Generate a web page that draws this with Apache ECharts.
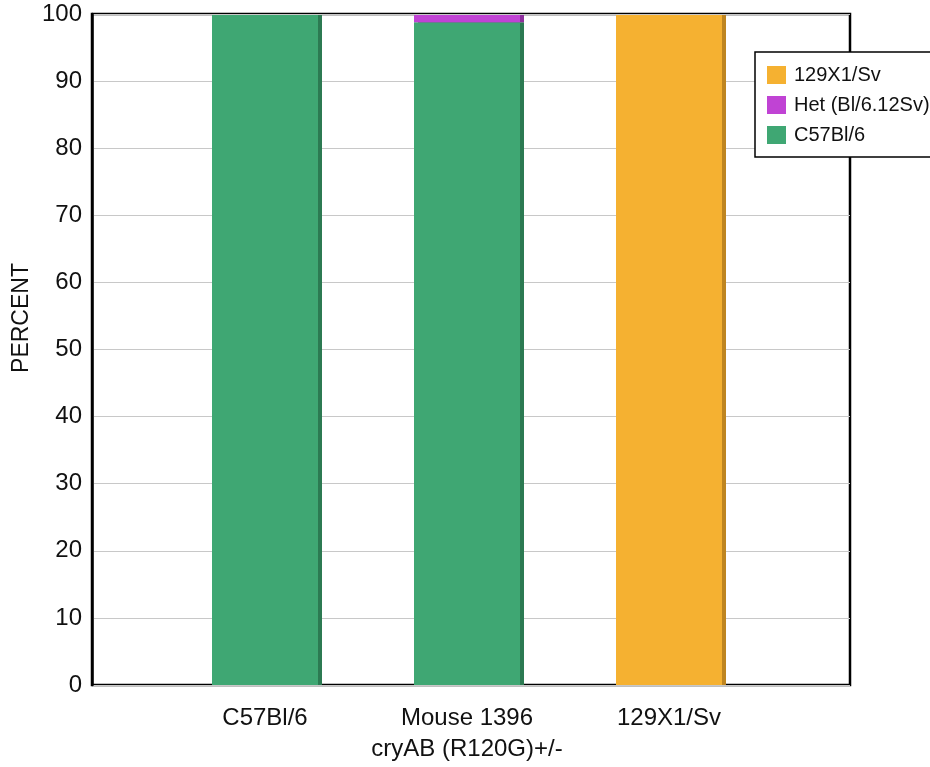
<!DOCTYPE html>
<html>
<head>
<meta charset="utf-8">
<script src="https://cdn.jsdelivr.net/npm/echarts@6/dist/echarts.min.js"></script>
<style>
html,body{margin:0;padding:0;background:#fff;}
#c{width:930px;height:767px;}
</style>
</head>
<body>
<div id="c"></div>
<script>
var categories = ['C57Bl/6', 'Mouse 1396\ncryAB (R120G)+/-', '129X1/Sv'];
var c57Values = [100, 98.9, 0];
var hetValues = [0, 1.1, 0];
var sv129Values = [0, 0, 100];
var yTicks = [0, 10, 20, 30, 40, 50, 60, 70, 80, 90, 100];

var FONT = "'Liberation Sans', Arial, sans-serif";
var chart = echarts.init(document.getElementById('c'));

function barSeries(name, data, color, dark) {
  return {
    name: name, type: 'bar', stack: 'a', data: data,
    xAxisIndex: 1, yAxisIndex: 1, barWidth: 106,
    itemStyle: { color: color, shadowColor: dark, shadowOffsetX: 4, shadowOffsetY: 0, shadowBlur: 0 },
    emphasis: { disabled: true }
  };
}

chart.setOption({
  animation: false,
  backgroundColor: '#ffffff',
  textStyle: { fontFamily: FONT },
  grid: [
    { left: 92, right: 80, top: 14, bottom: 82, show: true, borderColor: '#000', borderWidth: 2.5, backgroundColor: 'transparent' },
    { left: 164, right: 160, top: 15, bottom: 82 }
  ],
  xAxis: [
    { gridIndex: 0, type: 'value', min: 0, max: 1, show: false },
    { gridIndex: 1, type: 'category', data: categories,
      axisLine: { show: false }, axisTick: { show: false },
      axisLabel: { interval: 0, color: '#111', fontSize: 24, fontFamily: FONT, margin: 18, lineHeight: 31 } }
  ],
  yAxis: [
    { gridIndex: 0, type: 'value', min: 0, max: 100, interval: 10,
      axisLine: { show: true, lineStyle: { color: '#000', width: 2.5 } },
      axisTick: { show: false },
      axisLabel: { color: '#111', fontSize: 24, fontFamily: FONT, margin: 10,
        formatter: function (v) { return yTicks.indexOf(v) >= 0 ? String(v) : ''; } },
      splitLine: { show: true, lineStyle: { color: '#c8c8c8', width: 1 } } },
    { gridIndex: 1, type: 'value', min: 0, max: 100, show: false }
  ],
  legend: {
    orient: 'vertical', left: 755, top: 52,
    data: ['129X1/Sv', 'Het (Bl/6.12Sv)', 'C57Bl/6'],
    backgroundColor: '#fff', borderColor: '#000', borderWidth: 1.5,
    padding: [13, 40, 12, 12], itemGap: 10, itemWidth: 19, itemHeight: 18,
    icon: 'rect',
    textStyle: { color: '#111', fontSize: 20, fontFamily: FONT, padding: [0, 0, 0, 3] },
    selectedMode: false, z: 10
  },
  graphic: [
    { type: 'text', rotation: Math.PI / 2, x: 22, y: 318,
      style: { text: 'PERCENT', fill: '#111', font: '23px ' + FONT, textAlign: 'center', textVerticalAlign: 'middle' } }
  ],
  series: [
    barSeries('C57Bl/6', c57Values, '#3fa773', '#2c7a52'),
    barSeries('Het (Bl/6.12Sv)', hetValues, '#c043d4', '#8e2f9e'),
    barSeries('129X1/Sv', sv129Values, '#f5b131', '#bf8520')
  ]
});
</script>
</body>
</html>
